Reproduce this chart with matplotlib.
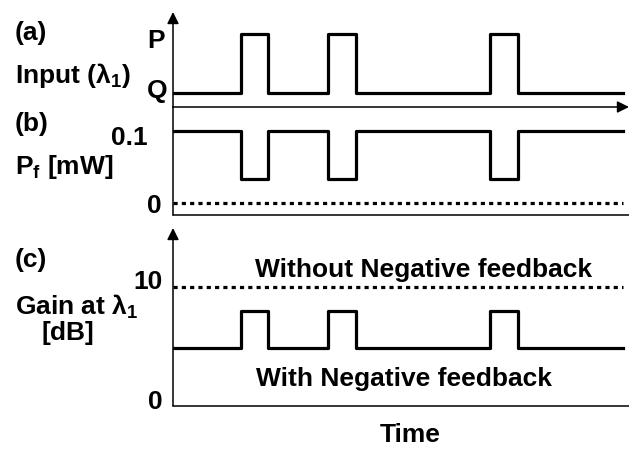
import matplotlib
matplotlib.use('Agg')
from matplotlib import pyplot as plt

plt.rcParams['font.family'] = ['Liberation Sans', 'DejaVu Sans']
plt.rcParams['font.weight'] = 'bold'
plt.rcParams['mathtext.fontset'] = 'custom'
plt.rcParams['mathtext.rm'] = 'Liberation Sans:bold'
plt.rcParams['mathtext.it'] = 'Liberation Sans:bold'
plt.rcParams['mathtext.bf'] = 'Liberation Sans:bold'

W, H = 629, 449
my_fontsize = 19
LW = 2.3
AXLW = 1.1

# step points (time in arbitrary units, end of trace at t = 100)
t_steps = [0, 15, 21.1, 34.4, 40.7, 70.4, 76.7, 100]

# (a) input signal levels: Q = low, P = high
Q, P = 1, 2
input_level = [Q, P, Q, P, Q, P, Q, Q]

# (b) feedback power [mW]
pf_level = [0.1, 0.033, 0.1, 0.033, 0.1, 0.033, 0.1, 0.1]
pf_without = [0, 0]

# (c) gain at lambda1 [dB]
gain_with = [4.9, 8.0, 4.9, 8.0, 4.9, 8.0, 4.9, 4.9]
gain_without = [10, 10]
t_flat = [0, 100]


def px_rect(left, right, top, bottom):
    return [left / W, 1 - bottom / H, (right - left) / W, (bottom - top) / H]


fig = plt.figure(figsize=(W / 100, H / 100), dpi=100)
ax_a = fig.add_axes(px_rect(173, 629, 12, 107))
ax_b = fig.add_axes(px_rect(173, 629, 107, 215))
ax_c = fig.add_axes(px_rect(173, 629, 228, 406))

for ax in (ax_a, ax_b, ax_c):
    ax.set_xlim(0, 101.3)
    ax.set_xticks([])
    ax.set_yticks([])
    ax.patch.set_alpha(0)
    for s in ax.spines.values():
        s.set_visible(False)

arrow = dict(arrowstyle='-|>,head_length=0.5,head_width=0.25', lw=AXLW, color='black',
             mutation_scale=14, shrinkA=0, shrinkB=0)
plain = dict(arrowstyle='-', lw=AXLW, color='black', shrinkA=0, shrinkB=0)

# axes lines
ax_a.annotate('', xy=(0, 1), xytext=(0, 0), xycoords='axes fraction', arrowprops=arrow)
ax_a.annotate('', xy=(1, 0), xytext=(0, 0), xycoords='axes fraction', arrowprops=arrow)
ax_b.annotate('', xy=(0, 1), xytext=(0, 0), xycoords='axes fraction', arrowprops=plain)
ax_b.annotate('', xy=(1, 0), xytext=(0, 0), xycoords='axes fraction', arrowprops=plain)
ax_c.annotate('', xy=(0, 1), xytext=(0, 0), xycoords='axes fraction', arrowprops=arrow)
ax_c.annotate('', xy=(1, 0), xytext=(0, 0), xycoords='axes fraction', arrowprops=plain)

# (a)
ax_a.plot(t_steps, input_level, drawstyle='steps-post', color='black', linewidth=LW,
          solid_joinstyle='round')
ax_a.set_ylim(Q - 14 / 59, P + 22 / 59)

# (b)
ax_b.plot(t_steps, pf_level, drawstyle='steps-post', color='black', linewidth=LW,
          solid_joinstyle='round')
ax_b.plot(t_flat, pf_without, color='black', linewidth=LW, linestyle=(0, (1.3, 1.3)))
ax_b.set_ylim(-12 / 720, 96 / 720)

# (c)
ax_c.plot(t_steps, gain_with, drawstyle='steps-post', color='black', linewidth=LW,
          solid_joinstyle='round')
ax_c.plot(t_flat, gain_without, color='black', linewidth=LW, linestyle=(0, (1.3, 1.3)))
ax_c.set_ylim(0, 178 / 11.9)


def level_label(ax, text, level, dx, dy):
    ax.annotate(text, xy=(0, level), xycoords=ax.get_yaxis_transform(),
                xytext=(dx, dy), textcoords='offset pixels',
                ha='right', va='center', fontsize=my_fontsize, fontweight='bold')


level_label(ax_a, 'P', P, -8, -7)
level_label(ax_a, 'Q', Q, -6, 2)
level_label(ax_b, '0.1', 0.1, -25, -7)
level_label(ax_b, '0', 0, -11, -3)
level_label(ax_c, '10', 10, -10, 5)
level_label(ax_c, '0', 0, -10, 4)

ax_c.text(18.2, 11.4, 'Without Negative feedback', ha='left', va='center',
          fontsize=my_fontsize, fontweight='bold')
ax_c.text(18.4, 2.3, 'With Negative feedback', ha='left', va='center',
          fontsize=my_fontsize, fontweight='bold')


def side_label(text, x, y, ha='left'):
    fig.text(x / W, 1 - y / H, text, ha=ha, va='center',
             fontsize=my_fontsize, fontweight='bold')


side_label('(a)', 15, 33)
side_label(r'Input ($\lambda_1$)', 15, 76)
side_label('(b)', 15, 124)
side_label(r'P$_f$ [mW]', 15, 167)
side_label('(c)', 15, 260)
side_label(r'Gain at $\lambda_1$', 15, 307)
side_label('[dB]', 68, 333, ha='center')
side_label('Time', 410, 435, ha='center')

fig.savefig('out.png', dpi=100)
